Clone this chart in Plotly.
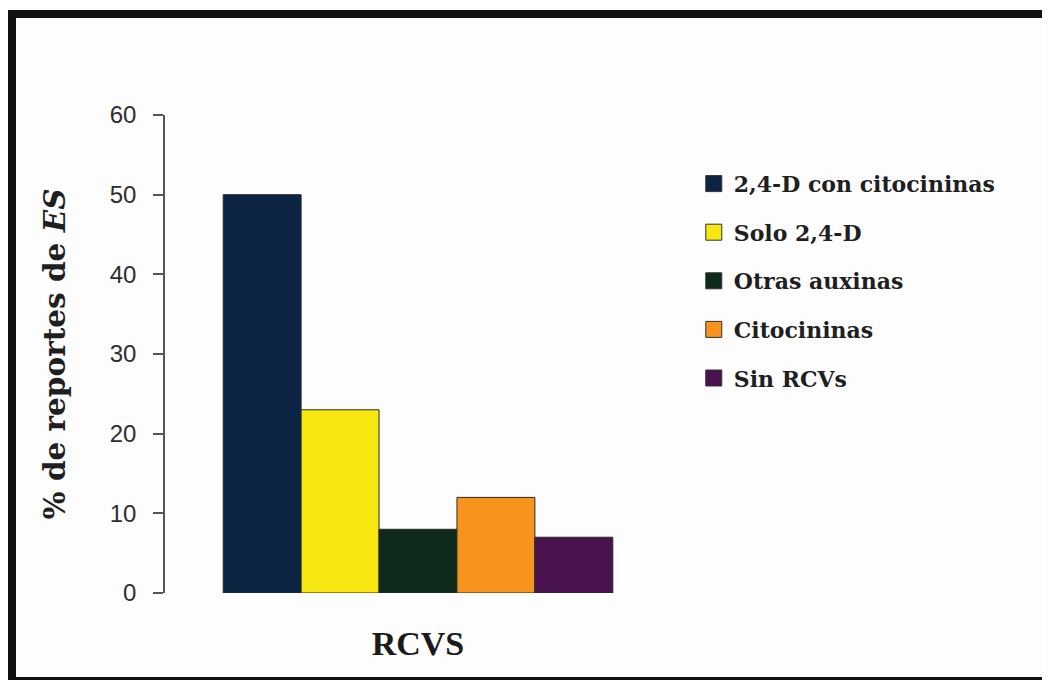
import plotly.graph_objects as go

categories = ["2,4-D con citocininas", "Solo 2,4-D", "Otras auxinas", "Citocininas", "Sin RCVs"]
values = [50, 23, 8, 12, 7]
colors = ["#0c2444", "#f8e610", "#0e2a1a", "#f7941d", "#4a1350"]
group_label = ["RCVS"]
y_ticks = [0, 10, 20, 30, 40, 50, 60]

# the page body adds an 8px offset, so the figure is 8px smaller than the window
W, H = 1042, 672
ml, mr, mt, mb = 157, 379, 107, 87
pw, ph = W - ml - mr, H - mt - mb

fig = go.Figure()
for name, v, c in zip(categories, values, colors):
    fig.add_trace(go.Bar(
        x=group_label, y=[v], name=name, showlegend=False,
        marker=dict(color=c, line=dict(color="#2a2a2a", width=1)),
    ))
for i, (name, c) in enumerate(zip(categories, colors)):
    fig.add_trace(go.Scatter(
        x=[None], y=[None], mode="markers", name=name, legendgroup=f"g{i}",
        marker=dict(symbol="square", size=16, color=c, line=dict(color="#333333", width=1)),
    ))

serif = "DejaVu Serif"
fig.update_layout(
    width=W, height=H,
    margin=dict(l=ml, r=mr, t=mt, b=mb, autoexpand=False),
    paper_bgcolor="#fdfdfd", plot_bgcolor="#fdfdfd",
    barmode="group", bargap=0.23, bargroupgap=0,
    showlegend=True,
    legend=dict(
        x=1.045, xanchor="left", y=0.900, yanchor="top",
        font=dict(family=serif, size=22, color="#1f1f1f", weight="bold"),
        traceorder="grouped", tracegroupgap=17,
        bgcolor="rgba(0,0,0,0)", itemclick=False,
    ),
    xaxis=dict(
        showticklabels=False, showline=False, showgrid=False, zeroline=False, ticks="",
        title=dict(text="<b>RCVS</b>", font=dict(family="Liberation Serif", size=34, color="#1a1a1a"), standoff=38),
    ),
    yaxis=dict(
        range=[0, 60], tickvals=y_ticks, ticktext=[str(t) for t in y_ticks],
        showline=True, linecolor="#555555", linewidth=1.5,
        ticks="outside", ticklen=10, tickwidth=1.5, tickcolor="#555555",
        ticklabelstandoff=12,
        showgrid=False, zeroline=False,
        tickfont=dict(family="Liberation Sans", size=24, color="#2e2e2e"),
        title=dict(text="<b>% de reportes de <i>ES</i></b>",
                   font=dict(family=serif, size=29.5, color="#1f1f1f"), standoff=35),
    ),
)

# outer black frame of the figure
x0 = (4 - ml) / pw
x1 = (1060 - ml) / pw
y0 = (H - mb - 673) / ph
y1 = (H - mb - 6) / ph
fig.add_shape(type="rect", xref="paper", yref="paper", x0=x0, x1=x1, y0=y0, y1=y1,
              line=dict(color="#111111", width=8), fillcolor="rgba(0,0,0,0)", layer="above")

fig.write_html("out.html")
